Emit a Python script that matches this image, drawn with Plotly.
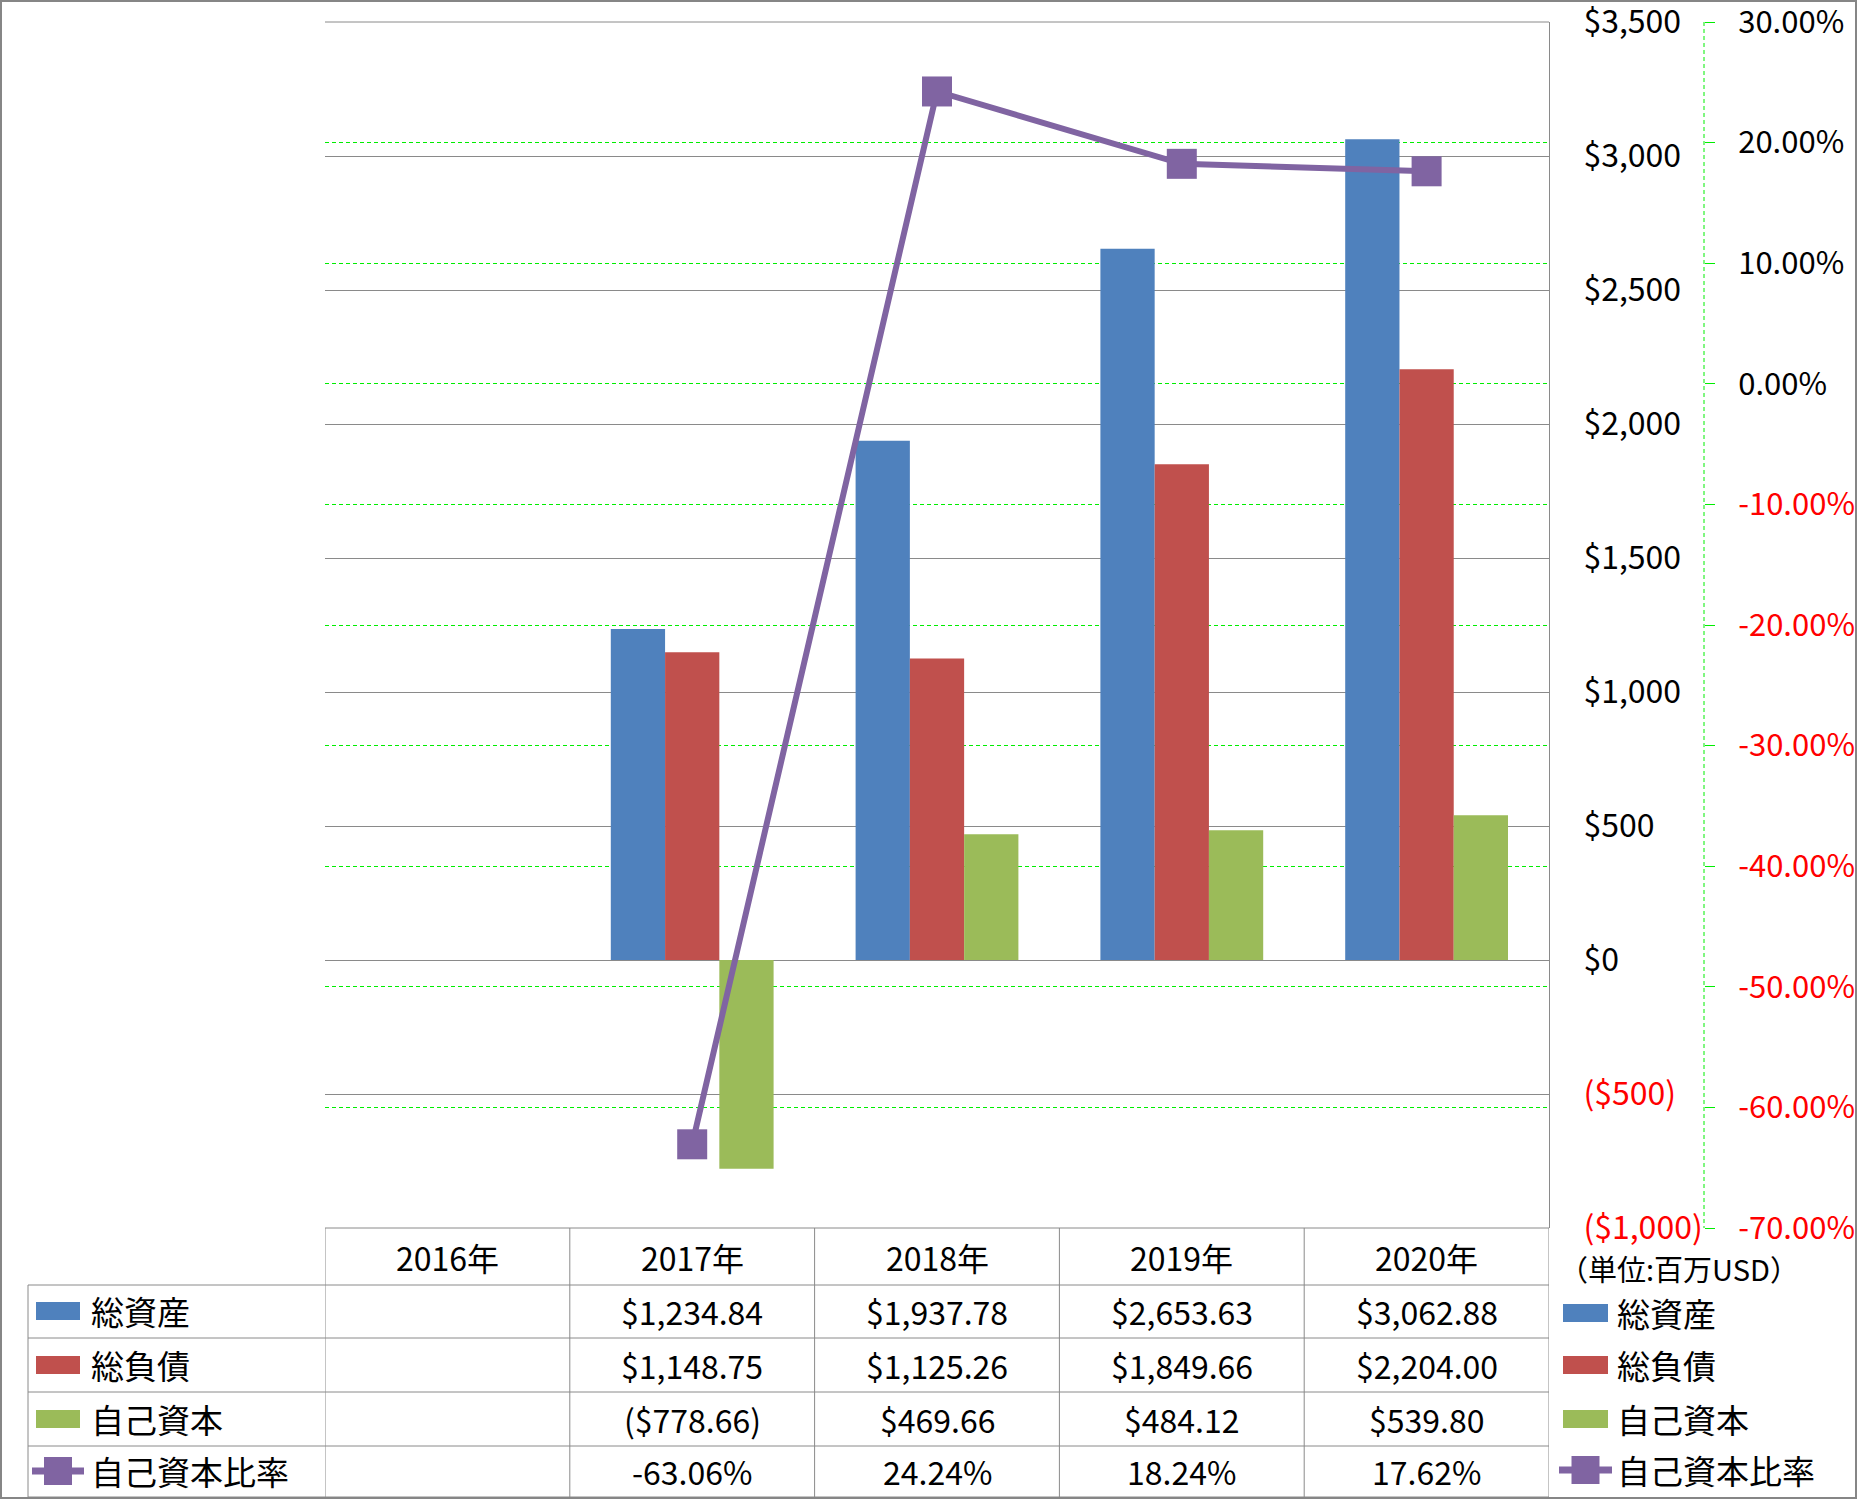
import plotly.graph_objects as go

# ---------------- data ----------------
years = ["2016年", "2017年", "2018年", "2019年", "2020年"]
total_assets = [None, 1234.84, 1937.78, 2653.63, 3062.88]
total_liabilities = [None, 1148.75, 1125.26, 1849.66, 2204.00]
equity = [None, -778.66, 469.66, 484.12, 539.80]
equity_ratio = [None, -63.06, 24.24, 18.24, 17.62]  # percent

series_names = ["総資産", "総負債", "自己資本", "自己資本比率"]
usd_ticks = [-1000, -500, 0, 500, 1000, 1500, 2000, 2500, 3000, 3500]
pct_ticks = [-70, -60, -50, -40, -30, -20, -10, 0, 10, 20, 30]
unit_label = "（単位:百万USD）"

# ---------------- styles ----------------
C_BLUE = "#4F81BD"
C_RED = "#C0504D"
C_GREEN = "#9BBB59"
C_PURPLE = "#8064A2"
C_GRID = "#8A8A8A"
C_GGRID = "#00EE00"
FONT = "Noto Sans CJK JP"
W, H = 1857, 1500
L, RPAD, T, B = 325, 100, 22, 272
PW = W - L - RPAD
PH = H - T - B


def px(x):
    return (x - L) / PW


def py(y):
    return (H - B - y) / PH


def fmt_usd(v):
    if v is None:
        return ""
    s = "${:,.2f}".format(abs(v))
    return "(" + s + ")" if v < 0 else s


def fmt_usd_tick(v):
    s = "${:,.0f}".format(abs(v))
    return "<span style='color:#FF0000'>(" + s + ")</span>" if v < 0 else s


def fmt_pct(v):
    if v is None:
        return ""
    return "{:.2f}%".format(v)


def fmt_pct_tick(v):
    s = "{:.2f}%".format(v)
    return "<span style='color:#FF0000'>" + s + "</span>" if v < 0 else s


fig = go.Figure()
bar_series = [(total_assets, C_BLUE), (total_liabilities, C_RED), (equity, C_GREEN)]
for i, (vals, col) in enumerate(bar_series):
    fig.add_trace(go.Bar(x=years, y=vals, name=series_names[i], marker=dict(color=col, line=dict(width=0)),
                         yaxis="y", showlegend=False))

fig.add_trace(go.Scatter(x=years, y=equity_ratio, name=series_names[3], mode="lines+markers",
                         line=dict(color=C_PURPLE, width=6),
                         marker=dict(symbol="square", size=30, color=C_PURPLE),
                         yaxis="y2", showlegend=False))

xdom1 = px(1549)
eps_usd = 0.01
eps_pct = 0.0002
fig.update_layout(
    width=W, height=H, autosize=False,
    margin=dict(l=L, r=RPAD, t=T, b=B, pad=0, autoexpand=False),
    paper_bgcolor="white", plot_bgcolor="white",
    font=dict(family=FONT, size=32, color="black"),
    barmode="group", bargap=0.335, bargroupgap=0,
    showlegend=False,
    xaxis=dict(domain=[0, xdom1], type="category", categoryorder="array", categoryarray=years,
               range=[-0.5, len(years) - 0.5], showticklabels=False, ticks="", showgrid=False,
               zeroline=False, showline=False, fixedrange=True, automargin=False),
    yaxis=dict(side="right", anchor="x", range=[usd_ticks[0] - eps_usd, usd_ticks[-1] + eps_usd],
               tickvals=usd_ticks, ticktext=[fmt_usd_tick(v) for v in usd_ticks],
               showgrid=True, gridcolor=C_GRID, gridwidth=1, zeroline=False, automargin=False,
               showline=True, linecolor=C_GRID, linewidth=1, ticks="", ticklabeloverflow="allow",
               ticklabelstandoff=27, tickfont=dict(size=32, family=FONT, color="black")),
    yaxis2=dict(overlaying="y", side="right", anchor="free", position=px(1704),
                range=[pct_ticks[0] - eps_pct, pct_ticks[-1] + eps_pct], automargin=False,
                tickvals=pct_ticks, ticktext=[fmt_pct_tick(v) for v in pct_ticks],
                showgrid=True, gridcolor=C_GGRID, gridwidth=1, griddash="4px,3px", zeroline=False,
                showline=False, ticks="outside", ticklen=10, tickcolor=C_GGRID, tickwidth=1,
                ticklabeloverflow="allow",
                ticklabelstandoff=17, tickfont=dict(size=31, family=FONT, color="black")),
)

shapes = []
# plot top and bottom lines
for yy in [22, 1228]:
    shapes.append(dict(type="line", xref="paper", yref="paper", x0=px(325), x1=px(1549), y0=py(yy), y1=py(yy),
                       line=dict(color=C_GRID, width=1), layer="below"))
# green dashed secondary axis line
shapes.append(dict(type="line", xref="paper", yref="paper", x0=px(1704), x1=px(1704), y0=py(22), y1=py(1228),
                   line=dict(color=C_GGRID, width=1, dash="4px,3px")))
# table horizontals
for yy in [1285, 1338, 1392, 1446, 1497]:
    shapes.append(dict(type="line", xref="paper", yref="paper", x0=px(28), x1=px(1549), y0=py(yy), y1=py(yy),
                       line=dict(color=C_GRID, width=1)))
# table verticals (category boundaries)
for k in range(len(years) + 1):
    shapes.append(dict(type="line", xref="x", yref="paper", x0=k - 0.5, x1=k - 0.5, y0=py(1228), y1=py(1497),
                       line=dict(color=C_GRID, width=1)))
shapes.append(dict(type="line", xref="paper", yref="paper", x0=px(28), x1=px(28), y0=py(1285), y1=py(1497),
                   line=dict(color=C_GRID, width=1)))
# outer frame
shapes.append(dict(type="rect", xref="paper", yref="paper", x0=px(1), x1=px(1856), y0=py(1498), y1=py(1),
                   line=dict(color="#868686", width=2), fillcolor="rgba(0,0,0,0)", layer="above"))

annotations = []
# header
row_centers = [1311, 1365, 1419, 1471]
for i, yr in enumerate(years):
    annotations.append(dict(xref="x", yref="paper", x=i, y=py(1257), text=yr, showarrow=False,
                            xanchor="center", yanchor="middle", font=dict(size=32, family=FONT)))
rows = [[fmt_usd(v) for v in total_assets], [fmt_usd(v) for v in total_liabilities],
        [fmt_usd(v) for v in equity], [fmt_pct(v) for v in equity_ratio]]
for r, row in enumerate(rows):
    for i, txt in enumerate(row):
        if txt:
            annotations.append(dict(xref="x", yref="paper", x=i, y=py(row_centers[r]), text=txt,
                                    showarrow=False, xanchor="center", yanchor="middle",
                                    font=dict(size=32, family=FONT)))

# legends (left in table, right outside)
legend_colors = [C_BLUE, C_RED, C_GREEN]
right_centers = [1313, 1365, 1419, 1470]
for (sx0, sx1, tx, centers) in [(36, 80, 89, row_centers), (1563, 1608, 1615, right_centers)]:
    for r in range(4):
        cy = centers[r]
        if r < 3:
            shapes.append(dict(type="rect", xref="paper", yref="paper", x0=px(sx0), x1=px(sx1),
                               y0=py(cy + 9), y1=py(cy - 9), line=dict(width=0), fillcolor=legend_colors[r]))
        else:
            shapes.append(dict(type="line", xref="paper", yref="paper", x0=px(sx0 - 4), x1=px(sx1 + 4),
                               y0=py(cy), y1=py(cy), line=dict(color=C_PURPLE, width=7)))
            mid = (sx0 + sx1) / 2
            shapes.append(dict(type="rect", xref="paper", yref="paper", x0=px(mid - 14), x1=px(mid + 14),
                               y0=py(cy + 14), y1=py(cy - 14), line=dict(width=0), fillcolor=C_PURPLE))
        annotations.append(dict(xref="paper", yref="paper", x=px(tx), y=py(cy), text=series_names[r],
                                showarrow=False, xanchor="left", yanchor="middle",
                                font=dict(size=33, family=FONT)))

annotations.append(dict(xref="paper", yref="paper", x=px(1557), y=py(1268), text=unit_label, showarrow=False,
                        xanchor="left", yanchor="middle", font=dict(size=29, family=FONT)))

fig.update_layout(shapes=shapes, annotations=annotations)

post = "document.body.style.margin='0';document.body.style.overflow='hidden';"
fig.write_html("out.html", config={"responsive": False, "displayModeBar": False}, post_script=post)
